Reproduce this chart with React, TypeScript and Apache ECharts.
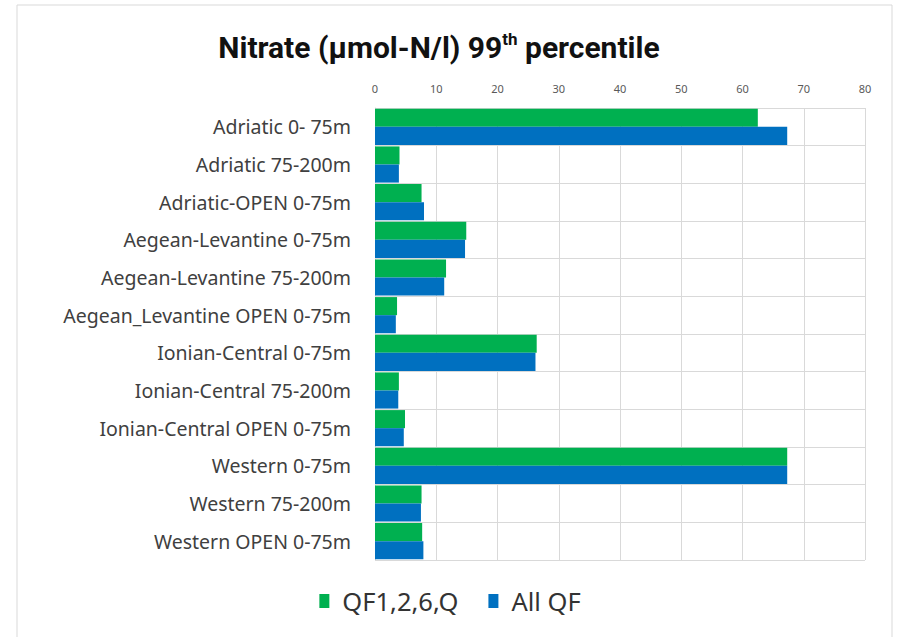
import React, { useEffect, useRef } from "react";
import * as echarts from "echarts";

const categories = [
  "Adriatic 0- 75m",
  "Adriatic 75-200m",
  "Adriatic-OPEN 0-75m",
  "Aegean-Levantine 0-75m",
  "Aegean-Levantine 75-200m",
  "Aegean_Levantine OPEN 0-75m",
  "Ionian-Central 0-75m",
  "Ionian-Central 75-200m",
  "Ionian-Central OPEN 0-75m",
  "Western 0-75m",
  "Western 75-200m",
  "Western OPEN 0-75m",
];

const qfSelected = [62.5, 4.0, 7.6, 14.9, 11.6, 3.6, 26.4, 3.9, 4.9, 67.3, 7.6, 7.7];
const allQF = [67.3, 3.9, 8.0, 14.7, 11.3, 3.4, 26.2, 3.8, 4.7, 67.3, 7.5, 7.9];

const xTicks = { min: 0, max: 80, interval: 10 };
const seriesNames = ["QF1,2,6,Q", "All QF"];

export default function App() {
  const ref = useRef<HTMLDivElement>(null);
  useEffect(() => {
    if (!ref.current) return;
    const chart = echarts.init(ref.current, null, { renderer: "svg" });
    chart.setOption({
      animation: false,
      backgroundColor: "#ffffff",
      title: {
        text: "{a|Nitrate (µmol-N/l) 99}{s|th}{a| percentile}",
        left: 434,
        top: 24,
        textAlign: "center",
        textStyle: {
          rich: {
            a: {
              fontFamily: "Roboto",
              fontWeight: "bold",
              fontSize: 30,
              color: "#111111",
              lineHeight: 36,
            },
            s: {
              fontFamily: "Roboto",
              fontWeight: "bold",
              fontSize: 17,
              color: "#111111",
              lineHeight: 36,
              padding: [0, 0, 16, 0],
            },
          },
        },
      },
      graphic: [
        {
          type: "rect",
          shape: { x: 17, y: 5, width: 875, height: 640 },
          style: { fill: "none", stroke: "#d9d9d9", lineWidth: 1 },
          silent: true,
        },
      ],
      legend: {
        bottom: 18,
        left: "center",
        itemWidth: 10,
        itemHeight: 14,
        itemGap: 30,
        icon: "rect",
        textStyle: {
          fontFamily: "Noto Sans",
          fontSize: 25.5,
          color: "#333333",
          padding: [0, 0, 0, 8],
        },
        data: seriesNames,
      },
      grid: { left: 375, right: 35, top: 108, bottom: 77, containLabel: false },
      xAxis: {
        type: "value",
        position: "top",
        min: xTicks.min,
        max: xTicks.max,
        interval: xTicks.interval,
        axisLine: { show: false },
        axisTick: { show: false },
        axisLabel: { color: "#595959", fontFamily: "Noto Sans", fontSize: 11, margin: 14 },
        splitLine: { show: true, lineStyle: { color: "#d9d9d9", width: 1 } },
      },
      yAxis: {
        type: "category",
        inverse: true,
        data: categories,
        axisLine: { show: true, lineStyle: { color: "#d9d9d9" } },
        axisTick: { show: false },
        axisLabel: { color: "#404040", fontFamily: "Noto Sans", fontSize: 19.5, margin: 24 },
        splitLine: { show: true, lineStyle: { color: "#d9d9d9", width: 1 } },
      },
      series: [
        {
          name: seriesNames[0],
          type: "bar",
          data: qfSelected,
          itemStyle: { color: "#00b050" },
          barGap: "0%",
          barCategoryGap: "4%",
        },
        {
          name: seriesNames[1],
          type: "bar",
          data: allQF,
          itemStyle: { color: "#0070c0" },
          barGap: "0%",
          barCategoryGap: "4%",
        },
      ],
    });
    return () => chart.dispose();
  }, []);
  return (
    <div
      ref={ref}
      style={{ position: "fixed", left: 0, top: 0, width: 900, height: 637 }}
    />
  );
}
